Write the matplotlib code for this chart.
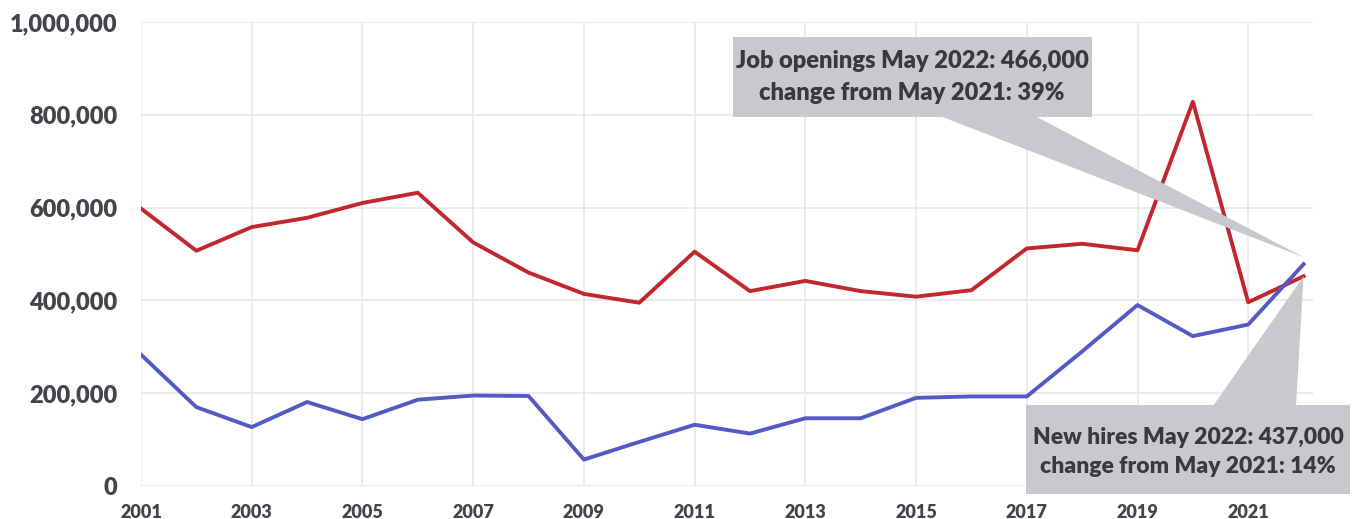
import matplotlib.pyplot as plt
from matplotlib.patches import Polygon, Rectangle
from matplotlib.ticker import FuncFormatter

# annual values, 2001-2022
years = list(range(2001, 2023))
red_line = [598000, 507000, 558000, 578000, 610000, 632000, 525000, 460000, 414000, 395000,
            505000, 420000, 442000, 420000, 408000, 422000, 512000, 522000, 508000, 828000,
            396000, 452000]
blue_line = [283000, 170000, 127000, 181000, 144000, 186000, 195000, 194000, 57000, 95000,
             132000, 113000, 146000, 146000, 190000, 193000, 193000, 290000, 390000, 323000,
             348000, 478000]

note_top = "Job openings May 2022: 466,000\nchange from May 2021: 39%"
note_bottom = "New hires May 2022: 437,000\nchange from May 2021: 14%"

plt.rcParams['font.family'] = ['Lato', 'DejaVu Sans']
txt = '#45434c'

W, H = 1364, 519
fig = plt.figure(figsize=(W / 100, H / 100), dpi=100)
ax = fig.add_axes([141 / W, 1 - 486 / H, (1313 - 141) / W, (486 - 22) / H])

ax.plot(years, red_line, color='#c1272d', lw=2.8, zorder=3)
ax.plot(years, blue_line, color='#5559c4', lw=2.8, zorder=3)

ax.set_xlim(2001, 2022.17)
ax.set_ylim(0, 1000000)
ax.set_xticks(range(2001, 2022, 2))
ax.set_yticks(range(0, 1000001, 200000))
ax.yaxis.set_major_formatter(FuncFormatter(lambda v, p: f'{int(v):,}'))
ax.grid(True, color='#e8e8ea', lw=1.2)
ax.set_axisbelow(True)
for s in ax.spines.values():
    s.set_visible(False)
ax.tick_params(axis='y', length=0, pad=17, labelsize=17, labelcolor=txt)
ax.tick_params(axis='x', length=0, pad=13, labelsize=13, labelcolor=txt)
for lab in ax.get_xticklabels() + ax.get_yticklabels():
    lab.set_fontweight('heavy')


def fig_xy(x, y):
    return (x / W, 1 - y / H)


def data_to_fig(x, y):
    p = ax.transData.transform((x, y))
    return tuple(fig.transFigure.inverted().transform(p))


box_col = '#c9c9cd'
# top callout -> end of blue line
tip = data_to_fig(years[-1], blue_line[-1] + 15000)
fig.patches.append(Polygon([fig_xy(940, 116), fig_xy(1035, 116), tip],
                           closed=True, transform=fig.transFigure, fc=box_col, ec='none', zorder=4))
fig.patches.append(Rectangle(fig_xy(733, 117), 359 / W, 80 / H, transform=fig.transFigure,
                             fc=box_col, ec='none', zorder=4))
fig.text(912 / W, 1 - 77 / H, note_top, ha='center', va='center', fontsize=17,
         fontweight='heavy', color='#3a3840', linespacing=1.5, zorder=5)

# bottom callout -> end of red line
tip = data_to_fig(years[-1], red_line[-1])
fig.patches.append(Polygon([fig_xy(1213, 406), fig_xy(1296, 406), tip],
                           closed=True, transform=fig.transFigure, fc=box_col, ec='none', zorder=4))
fig.patches.append(Rectangle(fig_xy(1026, 494), 324 / W, 89 / H, transform=fig.transFigure,
                             fc=box_col, ec='none', zorder=4))
fig.text(1188 / W, 1 - 452 / H, note_bottom, ha='center', va='center', fontsize=16.5,
         fontweight='heavy', color='#3a3840', linespacing=1.5, zorder=5)

fig.savefig('out.png', dpi=100)
